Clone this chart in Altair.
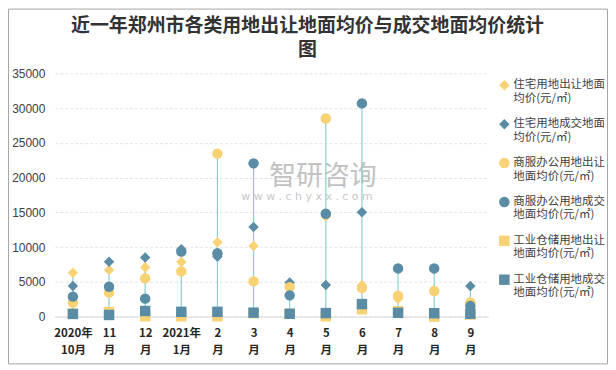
import altair as alt
import pandas as pd

months = ["2020年|10月", "11|月", "12|月", "2021年|1月", "2|月", "3|月",
          "4|月", "5|月", "6|月", "7|月", "8|月", "9|月"]

series = [
    "住宅用地出让地面均价(元/㎡)",
    "住宅用地成交地面均价(元/㎡)",
    "商服办公用地出让地面均价(元/㎡)",
    "商服办公用地成交地面均价(元/㎡)",
    "工业仓储用地出让地面均价(元/㎡)",
    "工业仓储用地成交地面均价(元/㎡)",
]

res_sell = [6300, 6700, 7100, 7850, 10700, 10150, 4700, 14400, 4500, 2550, 0, 1900]
res_deal = [4400, 7900, 8500, 9700, 8600, 12900, 4900, 4550, 15000, 800, 0, 4400]
com_sell = [2000, 3450, 5500, 6500, 23450, 5060, 4240, 28500, 4100, 3000, 3670, 2040]
com_deal = [2870, 4300, 2580, 9350, 9100, 22050, 3050, 14800, 30680, 6930, 6930, 1510]
ind_sell = [400, 650, 50, 50, 50, 500, 400, 50, 1050, 750, 0, 300]
ind_deal = [380, 230, 800, 680, 680, 560, 400, 500, 1800, 540, 480, 400]

values = [res_sell, res_deal, com_sell, com_deal, ind_sell, ind_deal]
colors = ["#F8D274", "#5A8CA5", "#F8D274", "#5A8CA5", "#F8D274", "#5A8CA5"]
shapes = ["diamond", "diamond", "circle", "circle", "square", "square"]
sizes = [110, 110, 100, 100, 64, 64]
y_ticks = [0, 5000, 10000, 15000, 20000, 25000, 30000, 35000]

rows = []
for name, vals in zip(series, values):
    for m, v in zip(months, vals):
        rows.append({"month": m, "series": name, "value": v})
df = pd.DataFrame(rows)

xenc = alt.X("month:N", sort=months, title=None,
             scale=alt.Scale(type="point", padding=0.5),
             axis=alt.Axis(labelExpr="split(datum.label, '|')", labelAngle=0,
                           labelFontSize=11.5, labelFontWeight="bold",
                           labelFont="Noto Sans CJK SC", labelColor="#262626",
                           labelLineHeight=17, labelPadding=11, ticks=False,
                           domainColor="#d9d9d9", grid=False))
yenc = alt.Y("value:Q", title=None,
             scale=alt.Scale(domain=[0, 35000], nice=False),
             axis=alt.Axis(values=y_ticks, tickCount=20, ticks=False,
                           format="d", domain=False, labelPadding=10,
                           labelFontSize=12, labelFont="Liberation Sans",
                           labelColor="#404040",
                           gridColor="#e4e4e4", gridDash=[3, 2]))

legend = alt.Legend(orient="none", legendX=445, legendY=6, title=None,
                    padding=0, labelFontSize=11.5, labelFont="Noto Sans CJK SC",
                    labelColor="#404040", symbolSize=40, labelLimit=200,
                    labelExpr="[substring(datum.label, 0, 8), substring(datum.label, 8)]",
                    rowPadding=14, labelOffset=3)

rules = alt.Chart(df).transform_aggregate(
    lo="min(value)", hi="max(value)", groupby=["month"]
).mark_rule(color="#8ACFCF", strokeWidth=1.2).encode(
    x=xenc, y=alt.Y("lo:Q", scale=alt.Scale(domain=[0, 35000], nice=False)), y2="hi:Q"
)

points = alt.Chart(df).mark_point(filled=True, opacity=1, strokeWidth=0).encode(
    x=xenc,
    y=yenc,
    color=alt.Color("series:N", sort=series,
                    scale=alt.Scale(domain=series, range=colors), legend=legend),
    shape=alt.Shape("series:N", sort=series,
                    scale=alt.Scale(domain=series, range=shapes), legend=legend),
    size=alt.Size("series:N", sort=series,
                  scale=alt.Scale(domain=series, range=sizes), legend=None),
)

wm = pd.DataFrame({"t": ["智研咨询"]})
wm1 = alt.Chart(wm).mark_text(fontSize=27, color="#c2c2c2", font="Noto Sans CJK SC").encode(
    x=alt.value(269), y=alt.value(104), text="t:N")
wm2 = alt.Chart(pd.DataFrame({"t": ["w w w . c h y x x . c o m"]})).mark_text(
    fontSize=11, color="#c8c8c8", font="DejaVu Sans").encode(
    x=alt.value(253), y=alt.value(124), text="t:N")

border = alt.Chart(wm).mark_rect(fillOpacity=0, stroke="#a6a6a6", strokeWidth=1).encode(
    x=alt.value(-46.5), x2=alt.value(554.5), y=alt.value(-64.5), y2=alt.value(291.5))

chart = alt.layer(border, wm1, wm2, rules, points).properties(
    width=435, height=244,
    padding=0,
    background="white",
    title=alt.Title(text=["近一年郑州市各类用地出让地面均价与成交地面均价统计", "图"],
                    fontSize=19, font="Noto Sans CJK SC", fontWeight="bold",
                    color="#333333", anchor="middle", dx=36, offset=-52, lineHeight=25),
).configure_view(stroke=None)

chart.save("out.html", embed_options={"renderer": "svg", "actions": False})
